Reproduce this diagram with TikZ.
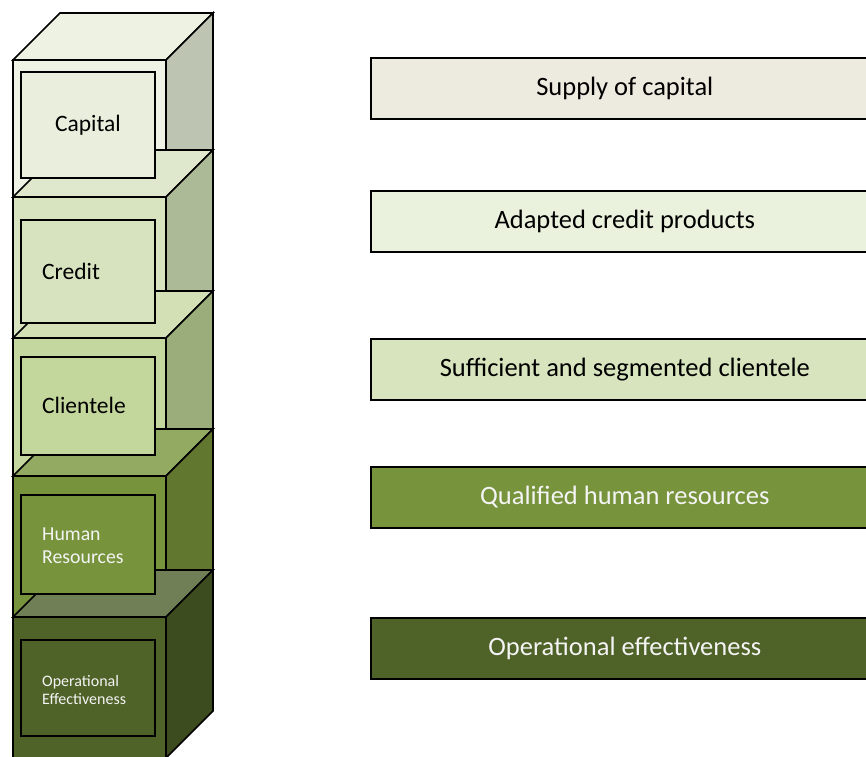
\documentclass[tikz,border=0pt]{standalone}
\usepackage{fontspec}
\setmainfont{Carlito}
\usepackage{xcolor}
\usetikzlibrary{positioning}

% level colours: front, top, side, inner box
\definecolor{capF}{HTML}{EFF3E5}
\definecolor{capT}{HTML}{EEF2E3}
\definecolor{capS}{HTML}{BDC4B1}
\definecolor{capI}{HTML}{E9EFDC}
\definecolor{creF}{HTML}{D8E3C0}
\definecolor{creT}{HTML}{DFE8CD}
\definecolor{creS}{HTML}{ADBA98}
\definecolor{creI}{HTML}{D7E3BE}
\definecolor{cliF}{HTML}{C4D79E}
\definecolor{cliT}{HTML}{D3E0B5}
\definecolor{cliS}{HTML}{9BAD7A}
\definecolor{cliI}{HTML}{C3D69B}
\definecolor{humF}{HTML}{77933C}
\definecolor{humT}{HTML}{93AA63}
\definecolor{humS}{HTML}{61772F}
\definecolor{humI}{HTML}{77933C}
\definecolor{opeF}{HTML}{4F6228}
\definecolor{opeT}{HTML}{707F55}
\definecolor{opeS}{HTML}{3D4C1F}
\definecolor{opeI}{HTML}{4F6228}
\definecolor{supB}{HTML}{EDEBE0}
\definecolor{creB}{HTML}{EAF1DD}
\definecolor{cliB}{HTML}{D7E4BD}
\definecolor{lbw}{HTML}{F4F4F4}

\tikzset{
  face/.style={draw=black, line width=1.6pt, line join=miter},
  innerbox/.style={draw=black, line width=1.6pt},
  bar/.style={draw=black, line width=1.6pt, anchor=north west,
    minimum width=508pt, minimum height=61pt, inner sep=0pt,
    font=\fontsize{26.5}{30}\selectfont},
  lbl/.style={anchor=west, inner sep=0pt, align=left}
}

\begin{document}
\begin{tikzpicture}[x=1pt, y=-1pt]
  \clip (0,0) rectangle (866,756);
  \fill[white] (0,0) rectangle (866,756);

  % Stack of cubes, top to bottom
  \foreach \yy/\fr/\tp/\sd in {60/capF/capT/capS, 197/creF/creT/creS,
      338/cliF/cliT/cliS, 476/humF/humT/humS, 617/opeF/opeT/opeS} {
    \filldraw[face, fill=\fr] (13,\yy) rectangle (166,\yy+141);
    \filldraw[face, fill=\tp] (13,\yy) -- (60,\yy-47) -- (213,\yy-47)
      -- (166,\yy) -- cycle;
    \filldraw[face, fill=\sd] (166,\yy) -- (213,\yy-47) -- (213,\yy+94)
      -- (166,\yy+141) -- cycle;
  }

  % Inner boxes with labels
  \filldraw[innerbox, fill=capI] (21,72) rectangle (155,178);
  \node[inner sep=0pt, font=\fontsize{23.5}{27}\selectfont] (capital) at (88,125) {Capital};

  \filldraw[innerbox, fill=creI] (21,220) rectangle (155,323);
  \node[lbl, font=\fontsize{23.5}{27}\selectfont] (credit) at (42,271) {Credit};

  \filldraw[innerbox, fill=cliI] (21,357) rectangle (155,455);
  \node[lbl, font=\fontsize{23.5}{27}\selectfont] (clientele) at (42,405) {Clientele};

  \filldraw[innerbox, fill=humI] (21,495) rectangle (155,594);
  \node[lbl, text=lbw, font=\fontsize{19.8}{23}\selectfont] (human) at (42,546)
    {Human\\Resources};

  \filldraw[innerbox, fill=opeI] (21,640) rectangle (155,736);
  \node[lbl, text=lbw, font=\fontsize{16}{18}\selectfont] (operational) at (42,690)
    {Operational\\Effectiveness};

  % Bars on the right
  \node[bar, fill=supB] (supply) at (370,57) {Supply of capital};
  \node[bar, fill=creB] (products) at (370,190) {Adapted credit products};
  \node[bar, fill=cliB] (segmented) at (370,338) {Sufficient and segmented clientele};
  \node[bar, fill=humF, text=lbw] (qualified) at (370,466) {Qualified human resources};
  \node[bar, fill=opeF, text=lbw] (effective) at (370,617) {Operational effectiveness};
\end{tikzpicture}
\end{document}
